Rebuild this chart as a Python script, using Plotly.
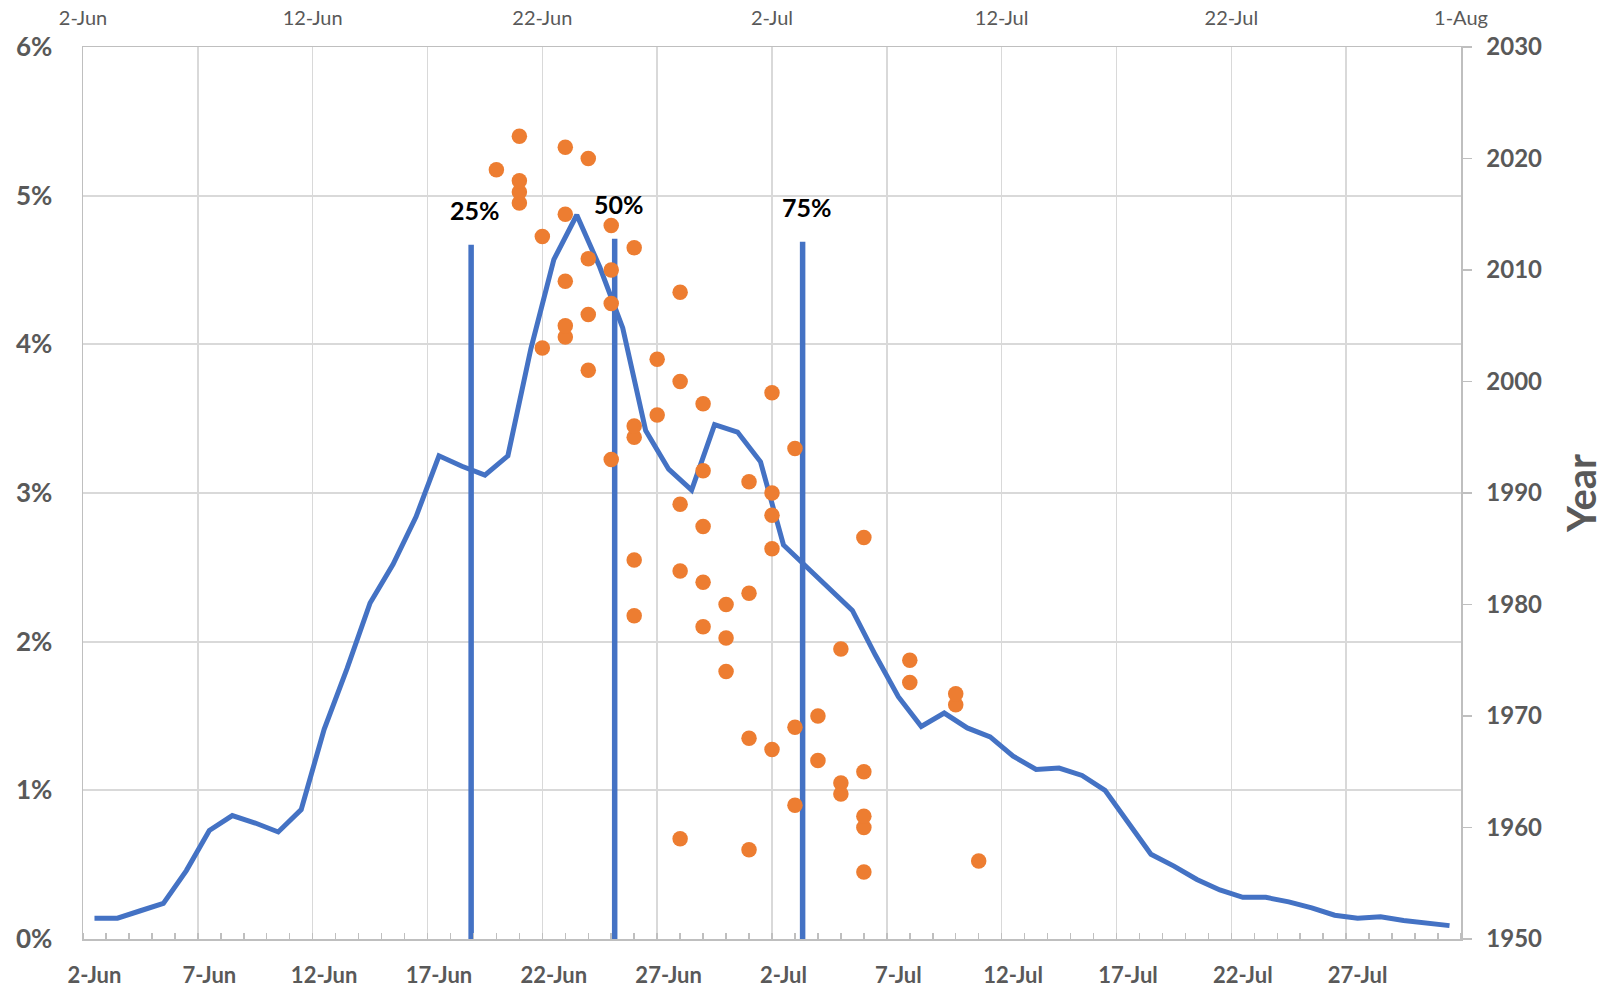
import plotly.graph_objects as go
import pandas as pd

# ---- data ----
YEAR0 = 2021
categories = pd.date_range(f"{YEAR0}-06-02", f"{YEAR0}-07-31", freq="D")
cat_labels = [f"{d.day}-{d.strftime('%b')}" for d in categories]

daily_pct = [0.14, 0.14, 0.19, 0.24, 0.46, 0.73, 0.83, 0.78, 0.72, 0.87,
             1.41, 1.82, 2.26, 2.52, 2.84, 3.25, 3.18, 3.12, 3.25, 3.97,
             4.57, 4.87, 4.52, 4.11, 3.42, 3.16, 3.02, 3.46, 3.41, 3.21,
             2.65, 2.50, 2.35, 2.21, 1.91, 1.63, 1.43, 1.52, 1.42, 1.36,
             1.23, 1.14, 1.15, 1.10, 1.00, 0.78, 0.57, 0.49, 0.40, 0.33,
             0.28, 0.28, 0.25, 0.21, 0.16, 0.14, 0.15, 0.125, 0.11, 0.09]

years = list(range(1956, 2023))
peak_dates = ["07-06", "07-11", "07-01", "06-28", "07-06", "07-06", "07-03", "07-05", "07-05", "07-06",
              "07-04", "07-02", "07-01", "07-03", "07-04", "07-10", "07-10", "07-08", "06-30", "07-08",
              "07-05", "06-30", "06-29", "06-26", "06-30", "07-01", "06-29", "06-28", "06-26", "07-02",
              "07-06", "06-29", "07-02", "06-28", "07-02", "07-01", "06-29", "06-25", "07-03", "06-26",
              "06-26", "06-27", "06-29", "07-02", "06-28", "06-24", "06-27", "06-22", "06-23", "06-23",
              "06-24", "06-25", "06-28", "06-23", "06-25", "06-24", "06-26", "06-22", "06-25", "06-23",
              "06-21", "06-21", "06-21", "06-20", "06-24", "06-23", "06-21"]

quartile_labels = ["25%", "50%", "75%"]
quartile_dates = [f"{YEAR0}-06-18 21:36", f"{YEAR0}-06-25 03:36", f"{YEAR0}-07-03 08:00"]
quartile_tops = [4.67, 4.71, 4.69]

top_tick_dates = pd.date_range(f"{YEAR0}-06-02", f"{YEAR0}-08-01", freq="5D")
top_tick_text = [f"{d.day}-{d.strftime('%b')}" if i % 2 == 0 else "" for i, d in enumerate(top_tick_dates)]

# ---- styles ----
BLUE = "#4472C4"
ORANGE = "#ED7D31"
GRID = "#D9D9D9"
AXIS = "#BFBFBF"
TXT = "#595959"
FONT = "Lato"

fig = go.Figure()

x_idx = list(range(len(categories)))
fig.add_trace(go.Scatter(x=x_idx, y=daily_pct, mode="lines",
                         line=dict(color=BLUE, width=5), xaxis="x", yaxis="y",
                         hoverinfo="skip"))

fig.add_trace(go.Scatter(x=[f"{YEAR0}-{d}" for d in peak_dates], y=years, mode="markers",
                         marker=dict(color=ORANGE, size=15.5), xaxis="x2", yaxis="y2"))

for qd, qt in zip(quartile_dates, quartile_tops):
    fig.add_trace(go.Scatter(x=[qd, qd], y=[0, qt], mode="lines",
                             line=dict(color=BLUE, width=5.5), xaxis="x2", yaxis="y"))

annotations = []
for lab, qd, qt in zip(quartile_labels, quartile_dates, quartile_tops):
    annotations.append(dict(x=qd, y=qt, xref="x2", yref="y", text=f"<b>{lab}</b>",
                            showarrow=False, yanchor="bottom", xanchor="center",
                            xshift=4, yshift=18,
                            font=dict(family=FONT, size=25, color="#000000")))

fig.update_layout(
    width=1608, height=991,
    margin=dict(l=83, r=147, t=47, b=52, autoexpand=False),
    paper_bgcolor="white", plot_bgcolor="white",
    showlegend=False,
    hovermode=False,
    font=dict(family=FONT, color=TXT),
    annotations=annotations,
    xaxis=dict(
        range=[-0.5, len(categories) - 0.5], automargin=False,
        tickmode="array", tickvals=x_idx[::5], ticktext=cat_labels[::5],
        ticks="", showgrid=False, zeroline=False,
        showline=True, linecolor=AXIS, linewidth=2,
        tickfont=dict(family=FONT, size=22, color=TXT, weight="bold"),
        ticklabelstandoff=16,
        minor=dict(tickmode="linear", tick0=-0.5, dtick=1, ticks="inside",
                   ticklen=6, tickcolor=AXIS, tickwidth=1.5, showgrid=False),
    ),
    xaxis2=dict(
        type="date", overlaying="x", side="top", automargin=False,
        range=[f"{YEAR0}-06-02", f"{YEAR0}-08-01"],
        tickmode="array", tickvals=list(top_tick_dates), ticktext=top_tick_text,
        ticks="", showgrid=True, gridcolor=GRID, gridwidth=1.5, zeroline=False,
        showline=True, linecolor=AXIS, linewidth=1.5,
        tickfont=dict(family=FONT, size=20, color=TXT),
        ticklabelstandoff=13,
    ),
    yaxis=dict(
        range=[0, 6], dtick=1, ticksuffix="%", automargin=False,
        showgrid=True, gridcolor=GRID, gridwidth=2, zeroline=False,
        showline=True, linecolor=AXIS, linewidth=1.5, ticks="",
        tickfont=dict(family=FONT, size=26, color=TXT, weight="bold"),
        ticklabelstandoff=24,
    ),
    yaxis2=dict(
        range=[1950, 2030], dtick=10, overlaying="y", side="right", automargin=False,
        showgrid=False, zeroline=False,
        showline=True, linecolor=AXIS, linewidth=1.5,
        ticks="outside", ticklen=9, tickcolor=AXIS, tickwidth=1.5,
        tickfont=dict(family=FONT, size=24, color=TXT, weight="bold"),
        ticklabelstandoff=10,
        title=dict(text="<b>Year</b>", font=dict(family=FONT, size=40, color=TXT), standoff=27),
    ),
)

# remove the default 8px page margin so the 1608x991 figure fills the window exactly
fig.write_html("out.html",
               config={"displayModeBar": False, "staticPlot": True},
               post_script="document.body.style.margin='0';document.body.style.overflow='hidden';")
